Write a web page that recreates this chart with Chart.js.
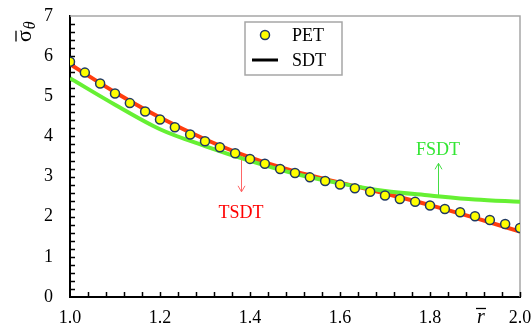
<!DOCTYPE html>
<html>
<head>
<meta charset="utf-8">
<script src="https://cdn.jsdelivr.net/npm/chart.js@4.4.1/dist/chart.umd.min.js"></script>
<style>
  html, body { margin: 0; padding: 0; background: #fff; }
  #wrap { width: 532px; height: 326px; }
</style>
</head>
<body>
<div id="wrap"><canvas id="grafico"></canvas></div>
<script>
// PET points
const petR = [1.000, 1.033, 1.067, 1.100, 1.133, 1.167, 1.200, 1.233, 1.267, 1.300,
  1.333, 1.367, 1.400, 1.433, 1.467, 1.500, 1.533, 1.567, 1.600, 1.633,
  1.667, 1.700, 1.733, 1.767, 1.800, 1.833, 1.867, 1.900, 1.933, 1.967, 2.000];
const petSigma = [5.86, 5.59, 5.32, 5.07, 4.83, 4.62, 4.42, 4.23, 4.05, 3.88,
  3.73, 3.58, 3.44, 3.32, 3.19, 3.09, 2.98, 2.89, 2.80, 2.71,
  2.62, 2.53, 2.44, 2.37, 2.28, 2.19, 2.11, 2.01, 1.92, 1.82, 1.72];

// curvas SDT
const curveR = [1.0, 1.1, 1.2, 1.3, 1.4, 1.5, 1.6, 1.7, 1.8, 1.9, 2.0];
const tsdt = [5.80, 5.10, 4.47, 3.93, 3.48, 3.13, 2.85, 2.58, 2.29, 1.97, 1.63];
const fsdt = [5.45, 4.79, 4.18, 3.76, 3.39, 3.07, 2.83, 2.64, 2.53, 2.43, 2.37];

const legendLabels = ["PET", "SDT"];

// anotações: texto, r, y inicio seta, y fim seta, y texto
const notes = [
  { text: "TSDT", r: 1.38, from: 3.56, to: 2.62, label: 2.08, color: "#ff0000", arrow: "#ff6666" },
  { text: "FSDT", r: 1.818, from: 2.52, to: 3.33, label: 3.66, color: "#33e633", arrow: "#44dd44" }
];

const FONT = "'Liberation Serif', 'Times New Roman', serif";

const pts = petR.map((r, i) => ({ x: r, y: petSigma[i] }));
const linhaT = curveR.map((r, i) => ({ x: r, y: tsdt[i] }));
const linhaF = curveR.map((r, i) => ({ x: r, y: fsdt[i] }));

const extras = {
  id: "extras",
  beforeDatasetsDraw(chart) {
    const { ctx, chartArea: a, scales: { x, y } } = chart;
    ctx.save();
    // moldura cinza
    ctx.strokeStyle = "#a6a6a6";
    ctx.lineWidth = 1.5;
    ctx.beginPath();
    ctx.moveTo(a.left, a.top);
    ctx.lineTo(a.right, a.top);
    ctx.lineTo(a.right, a.bottom);
    ctx.stroke();
    // ticks internos
    ctx.strokeStyle = "#000";
    ctx.lineWidth = 1.5;
    ctx.beginPath();
    for (let i = 1; i < 35; i++) {
      const py = Math.round(y.getPixelForValue(i * 0.2)) + 0.5;
      ctx.moveTo(a.left, py);
      ctx.lineTo(a.left + 5, py);
    }
    for (let i = 1; i <= 25; i++) {
      const px = Math.round(x.getPixelForValue(1 + i * 0.04)) + 0.5;
      ctx.moveTo(px, a.bottom);
      ctx.lineTo(px, a.bottom - 5);
    }
    ctx.stroke();

    // setas
    notes.forEach(n => {
      const px = Math.round(x.getPixelForValue(n.r)) + 0.5;
      const y1 = y.getPixelForValue(n.from);
      const y2 = y.getPixelForValue(n.to);
      const dir = y2 > y1 ? 1 : -1;
      ctx.strokeStyle = n.arrow;
      ctx.lineWidth = 1;
      ctx.beginPath();
      ctx.moveTo(px, y1);
      ctx.lineTo(px, y2);
      ctx.moveTo(px - 3.5, y2 - dir * 6);
      ctx.lineTo(px, y2);
      ctx.lineTo(px + 3.5, y2 - dir * 6);
      ctx.stroke();
    });
    ctx.restore();
  },
  afterDraw(chart) {
    const { ctx, scales: { x, y } } = chart;
    ctx.save();
    // textos das anotações
    ctx.font = "18px " + FONT;
    ctx.textAlign = "center";
    ctx.textBaseline = "middle";
    notes.forEach(n => {
      ctx.fillStyle = n.color;
      ctx.fillText(n.text, x.getPixelForValue(n.r), y.getPixelForValue(n.label));
    });

    // legenda
    const lx = 245, ly = 22, lw = 97, lh = 53;
    ctx.fillStyle = "#fff";
    ctx.fillRect(lx, ly, lw, lh);
    ctx.strokeStyle = "#a6a6a6";
    ctx.lineWidth = 1.5;
    ctx.strokeRect(lx, ly, lw, lh);
    ctx.beginPath();
    ctx.arc(lx + 20, ly + 13, 4.5, 0, Math.PI * 2);
    ctx.fillStyle = "#ffff00";
    ctx.fill();
    ctx.strokeStyle = "#1f3864";
    ctx.lineWidth = 1.5;
    ctx.stroke();
    ctx.strokeStyle = "#000";
    ctx.lineWidth = 3;
    ctx.beginPath();
    ctx.moveTo(lx + 7, ly + 38);
    ctx.lineTo(lx + 33, ly + 38);
    ctx.stroke();
    ctx.fillStyle = "#000";
    ctx.font = "18px " + FONT;
    ctx.textAlign = "left";
    ctx.textBaseline = "middle";
    ctx.fillText(legendLabels[0], lx + 47, ly + 14);
    ctx.fillText(legendLabels[1], lx + 47, ly + 39);

    // título eixo y: sigma barra theta
    ctx.save();
    ctx.translate(31, 42);
    ctx.rotate(-Math.PI / 2);
    ctx.textAlign = "left";
    ctx.textBaseline = "alphabetic";
    ctx.font = "22px " + FONT;
    ctx.fillText("σ", 0, 0);
    const sw = ctx.measureText("σ").width;
    ctx.lineWidth = 1.3;
    ctx.beginPath();
    ctx.moveTo(0.5, -15);
    ctx.lineTo(sw - 0.5, -15);
    ctx.stroke();
    ctx.font = "italic 16px " + FONT;
    ctx.fillText("θ", sw + 1, 4);
    ctx.restore();

    // título eixo x: r barra
    ctx.font = "italic 20px " + FONT;
    ctx.textAlign = "center";
    ctx.textBaseline = "alphabetic";
    ctx.fillText("r", 481, 323);
    ctx.lineWidth = 1.3;
    ctx.beginPath();
    ctx.moveTo(476, 308.5);
    ctx.lineTo(486, 308.5);
    ctx.stroke();
    ctx.restore();
  }
};

new Chart(document.getElementById("grafico"), {
  type: "line",
  data: {
    datasets: [
      {
        label: "PET",
        data: pts,
        showLine: false,
        pointRadius: 4.5,
        pointBackgroundColor: "#ffff00",
        pointBorderColor: "#1f3864",
        pointBorderWidth: 1.5
      },
      {
        label: "FSDT",
        data: linhaF,
        borderColor: "#66f033",
        borderWidth: 4,
        pointRadius: 0,
        cubicInterpolationMode: "monotone"
      },
      {
        label: "TSDT",
        data: linhaT,
        borderColor: "#ff3d0d",
        borderWidth: 4,
        pointRadius: 0,
        cubicInterpolationMode: "monotone"
      }
    ]
  },
  options: {
    responsive: true,
    maintainAspectRatio: false,
    animation: false,
    layout: { padding: { top: 16, right: 12, left: 0, bottom: 0 } },
    plugins: {
      legend: { display: false },
      tooltip: { enabled: false }
    },
    scales: {
      x: {
        type: "linear",
        min: 1,
        max: 2,
        afterFit(s) { s.height = 29; s.paddingLeft = 0; s.paddingRight = 0; },
        grid: { display: false, drawTicks: false },
        border: { display: true, color: "#000", width: 2 },
        ticks: {
          stepSize: 0.2,
          padding: 10,
          color: "#000",
          font: { family: FONT, size: 18 },
          callback: v => v.toFixed(1)
        }
      },
      y: {
        min: 0,
        max: 7,
        afterFit(s) { s.width = 70; s.paddingTop = 0; s.paddingBottom = 0; },
        grid: { display: false, drawTicks: false },
        border: { display: true, color: "#000", width: 2 },
        ticks: {
          stepSize: 1,
          padding: 17,
          color: "#000",
          font: { family: FONT, size: 18 }
        }
      }
    }
  },
  plugins: [extras]
});
</script>
</body>
</html>
